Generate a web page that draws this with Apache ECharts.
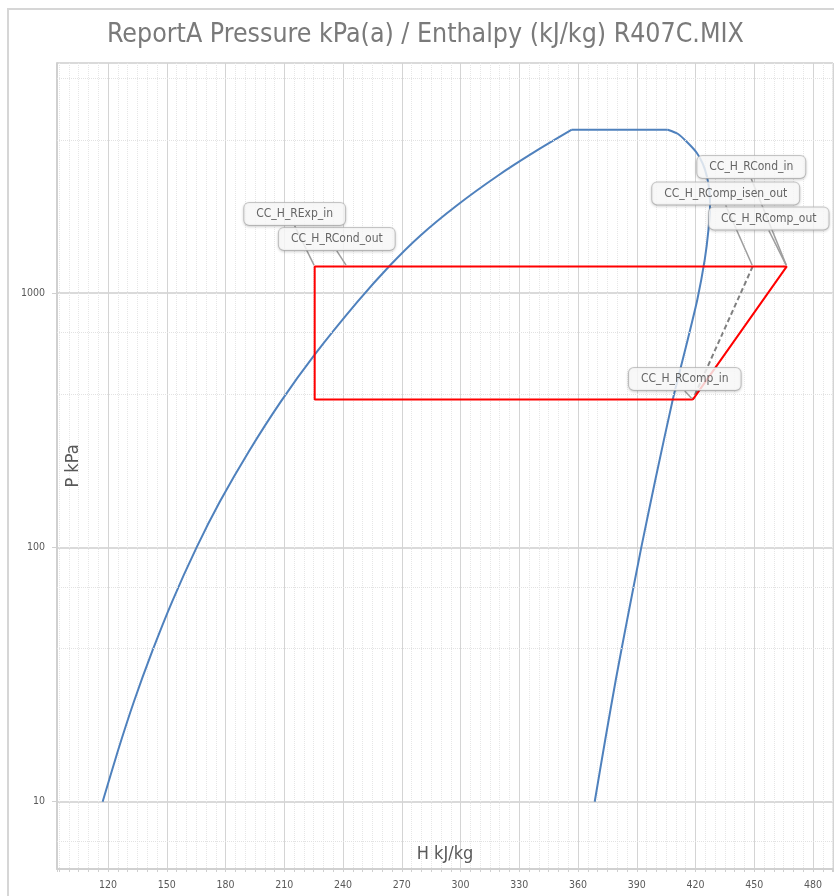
<!DOCTYPE html>
<html><head><meta charset="utf-8">
<script src="https://cdn.jsdelivr.net/npm/echarts@6.0.0/dist/echarts.min.js"></script>
<style>html,body{margin:0;padding:0;background:#fff}#c{width:834px;height:896px}</style>
</head><body><div id="c"></div>
<script>
// ---- data ----
const titleText = 'ReportA Pressure kPa(a) / Enthalpy (kJ/kg) R407C.MIX';
const xName = 'H kJ/kg';
const yName = 'P kPa';
const xRange = [93.9, 490.2];
const yRange = [5.44, 8017];
// saturation dome (H kJ/kg, P kPa)
const satLiquidH = [117.2, 124.9, 133.2, 142.5, 152.7, 165.2, 177.1, 191.8, 208.2, 225.5, 247.4, 263.8, 279.4, 297.9, 319.0, 338.8, 356.8];
const satLiquidP = [10, 15.76, 24.77, 38.97, 61.24, 100, 151.4, 237.8, 374.1, 572.1, 924.2, 1280, 1680, 2203, 2890, 3624, 4383];
const satTopH = [356.8, 405.8];
const satTopP = [4383, 4383];
const satVaporH = [405.8, 410.9, 416.0, 420.6, 423.7, 425.7, 427.0, 427.4, 426.6, 424.7, 420.9, 416.0, 408.35, 399.5, 392.3, 385.1, 379.3, 373.9, 368.5];
const satVaporP = [4383, 4225, 3895, 3558, 3221, 2890, 2546, 2223, 1773, 1352, 941, 655.3, 380.7, 184.7, 100, 52.0, 30.24, 17.57, 10];
// refrigeration cycle
const cycleH = [418.6, 466.6, 241.9, 225.5, 225.5, 418.6];
const cycleP = [381, 1272, 1272, 1272, 381, 381];
const isenH = [449.2, 418.6];
const isenP = [1272, 381];
// labelled state points
const pointNames = ['CC_H_RCond_in', 'CC_H_RComp_isen_out', 'CC_H_RComp_out', 'CC_H_RExp_in', 'CC_H_RCond_out', 'CC_H_RComp_in'];
const pointH = [466.6, 449.2, 466.6, 225.5, 241.9, 418.6];
const pointP = [1272, 1272, 1272, 1272, 1272, 381];
// minor horizontal grid values
const yMinorGrid = [7, 40, 70, 400, 700, 4000, 7000];

// ---- layout/style (not data) ----
const labelOffsets = [[-35.5, -99.5], [-27, -73], [-18, -48], [-20, -52.5], [-10, -27.5], [-8, -20.5]];
const FONT = "'DejaVu Sans Condensed', 'DejaVu Sans', sans-serif";
const zip = (a, b) => a.map((v, i) => [v, b[i]]);

const chart = echarts.init(document.getElementById('c'), null, {renderer: 'canvas'});
chart.setOption({
  animation: false,
  backgroundColor: '#fff',
  title: {
    text: titleText, left: 107, top: 22, padding: 0,
    textStyle: {fontSize: 26.5, fontWeight: 'normal', color: '#7a7a7a', fontFamily: FONT}
  },
  graphic: [{
    type: 'rect', z: -10, silent: true,
    shape: {x: 8, y: 9, width: 900, height: 900},
    style: {fill: 'none', stroke: '#d6d6d6', lineWidth: 2}
  }],
  grid: {left: 57, top: 63, right: 1, bottom: 27, show: true, borderColor: '#dadada', borderWidth: 1,
    containLabel: false, outerBoundsMode: 'none'},
  xAxis: {
    type: 'value', min: xRange[0], max: xRange[1], splitNumber: 13,
    name: xName, nameLocation: 'middle', nameGap: -24, nameMoveOverlap: false,
    nameTextStyle: {fontSize: 18, color: '#595959', fontFamily: FONT},
    axisLine: {show: true, onZero: false, lineStyle: {color: '#d0d0d0', width: 2}},
    axisTick: {show: true, length: 3, lineStyle: {color: '#d0d0d0'}},
    minorTick: {show: true, splitNumber: 6, length: 3, lineStyle: {color: '#d0d0d0'}},
    axisLabel: {showMinLabel: false, showMaxLabel: false, fontSize: 10.5, color: '#595959', margin: 11, fontFamily: FONT},
    splitLine: {show: true, lineStyle: {color: '#d4d4d4', width: 1}},
    minorSplitLine: {show: true, lineStyle: {color: '#e6e6e6', width: 1, type: 'dotted'}}
  },
  yAxis: {
    type: 'log', logBase: 10, min: yRange[0], max: yRange[1],
    name: yName, nameLocation: 'middle', nameGap: -25, nameRotate: 90, nameMoveOverlap: false,
    nameTextStyle: {fontSize: 18, color: '#595959', fontFamily: FONT},
    axisLine: {show: true, lineStyle: {color: '#d0d0d0', width: 2}},
    axisTick: {show: true, length: 5, lineStyle: {color: '#d0d0d0'}},
    axisLabel: {showMinLabel: false, showMaxLabel: false, fontSize: 10.5, color: '#595959', margin: 12, fontFamily: FONT,
      formatter: v => String(Math.round(v))},
    splitLine: {show: true, lineStyle: {color: '#dadada', width: 2}}
  },
  series: [
    {
      type: 'line', data: [], silent: true, z: 1,
      markLine: {
        silent: true, symbol: ['none', 'none'], label: {show: false},
        lineStyle: {color: '#e2e2e2', width: 1, type: 'dotted'},
        data: yMinorGrid.map(v => ({yAxis: v}))
      }
    },
    {
      type: 'line', data: zip(satLiquidH, satLiquidP), showSymbol: false, smooth: 0.2, z: 3,
      lineStyle: {color: '#4f81bd', width: 2}
    },
    {
      type: 'line', data: zip(satTopH, satTopP), showSymbol: false, z: 3,
      lineStyle: {color: '#4f81bd', width: 2}
    },
    {
      type: 'line', data: zip(satVaporH, satVaporP), showSymbol: false, smooth: 0.2, z: 3,
      lineStyle: {color: '#4f81bd', width: 2}
    },
    {
      type: 'line', data: zip(isenH, isenP), showSymbol: false, z: 4,
      lineStyle: {color: '#808080', width: 2, type: [5, 3]}
    },
    {
      type: 'line', data: zip(cycleH, cycleP), showSymbol: false, z: 5,
      lineStyle: {color: '#ff0000', width: 2}
    },
    {
      type: 'scatter', z: 6,
      data: pointNames.map((n, i) => ({name: n, value: [pointH[i], pointP[i]]})),
      symbolSize: 3, itemStyle: {color: 'rgba(0,0,0,0)'},
      label: {
        show: true, formatter: '{b}', position: 'inside',
        fontSize: 12, color: '#404040', fontFamily: FONT,
        backgroundColor: '#ffffff', borderColor: '#bdbdbd', borderWidth: 1, borderRadius: 5,
        padding: [5, 12, 5, 12],
        shadowColor: 'rgba(0,0,0,0.18)', shadowBlur: 3, shadowOffsetY: 1
      },
      labelLine: {show: true, lineStyle: {color: '#9e9e9e', width: 1.5}},
      labelLayout: function (p) {
        const o = labelOffsets[p.dataIndex];
        return {
          x: p.rect.x + p.rect.width / 2 + o[0],
          y: p.rect.y + p.rect.height / 2 + o[1],
          align: 'center', verticalAlign: 'middle'
        };
      }
    }
  ]
});
</script>
</body></html>
